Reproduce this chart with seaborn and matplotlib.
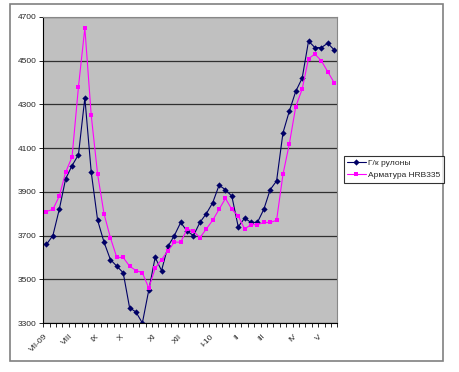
import matplotlib
matplotlib.use('Agg')
import matplotlib.pyplot as plt
import seaborn as sns
import pandas as pd
from matplotlib.patches import Rectangle

# weekly prices
hrc = [3660, 3700, 3820, 3960, 4020, 4070, 4330, 3990, 3770, 3670,
       3590, 3560, 3530, 3370, 3350, 3300, 3450, 3600, 3540, 3650,
       3700, 3760, 3720, 3700, 3760, 3800, 3850, 3930, 3910, 3880,
       3740, 3780, 3760, 3760, 3820, 3910, 3950, 4170, 4270, 4360,
       4420, 4590, 4560, 4560, 4580, 4550]
rebar = [3810, 3820, 3880, 3990, 4060, 4380, 4650, 4250, 3980, 3800,
         3690, 3600, 3600, 3560, 3540, 3530, 3460, 3550, 3590, 3630,
         3670, 3670, 3730, 3720, 3690, 3730, 3770, 3820, 3870, 3820,
         3790, 3730, 3750, 3750, 3760, 3760, 3770, 3980, 4120, 4290,
         4370, 4510, 4530, 4500, 4450, 4400]
series_names = ['Г/к рулоны', 'Арматура HRB335']
months = ['VII-09', 'VIII', 'IX', 'X', 'XI', 'XII', 'I-10', 'II', 'III', 'IV', 'V']
month_pos = [0, 4, 8, 12, 17, 21, 26, 30, 34, 39, 43]
y_ticks = [3300, 3500, 3700, 3900, 4100, 4300, 4500, 4700]

sns.set_style('ticks')
plt.rcParams['font.family'] = ['Liberation Sans', 'DejaVu Sans']

n = len(hrc)
df = pd.DataFrame({
    'week': list(range(n)) * 2,
    'price': hrc + rebar,
    'series': [series_names[0]] * n + [series_names[1]] * n,
})

fig = plt.figure(figsize=(4.6, 3.72), dpi=100)
ax = fig.add_axes([43.3 / 460, 1 - 323 / 372, 294 / 460, 306 / 372])
ax.set_facecolor('#c0c0c0')

sns.lineplot(data=df, x='week', y='price', hue='series', style='series',
             palette={series_names[0]: '#000066', series_names[1]: '#ff00ff'},
             markers={series_names[0]: 'D', series_names[1]: 's'},
             dashes=False, linewidth=0.8, markersize=3.2,
             markeredgewidth=0, ax=ax)
ax.get_legend().remove()

ax.set_xlim(-0.5, n - 0.5)
ax.set_ylim(3300, 4700)
ax.set_yticks(y_ticks)
ax.set_xticks(month_pos)
ax.set_xticklabels(months, rotation=45, ha='right', va='center',
                   rotation_mode='anchor')
ax.set_xticks([i - 0.5 for i in range(n + 1)], minor=True)
ax.tick_params(axis='x', which='major', length=0, pad=9, labelsize=6)
ax.tick_params(axis='x', which='minor', length=3, width=0.7, direction='out')
ax.tick_params(axis='y', length=3, width=0.7, pad=2, labelsize=6)
ax.set_xlabel('')
ax.set_ylabel('')
ax.yaxis.grid(True, color='#303030', linewidth=0.9)
ax.set_axisbelow(True)
for side in ['top', 'right']:
    ax.spines[side].set_color('#888888')
    ax.spines[side].set_linewidth(0.8)
for side in ['left', 'bottom']:
    ax.spines[side].set_color('black')
    ax.spines[side].set_linewidth(0.8)

handles, labels = ax.get_legend_handles_labels()
leg = fig.legend(handles, labels, loc='upper left',
                 bbox_to_anchor=(344 / 460, 1 - 156 / 372), fontsize=6,
                 frameon=True, fancybox=False, edgecolor='black',
                 borderpad=0.4, handlelength=2.2, labelspacing=0.5,
                 borderaxespad=0, handletextpad=0.3)
leg.get_frame().set_linewidth(0.8)

fig.add_artist(Rectangle((10 / 460, 1 - 361 / 372), 433 / 460, 357 / 372,
                         transform=fig.transFigure, fill=False,
                         edgecolor='#808080', linewidth=1.2))

fig.savefig('out.png', dpi=100)
